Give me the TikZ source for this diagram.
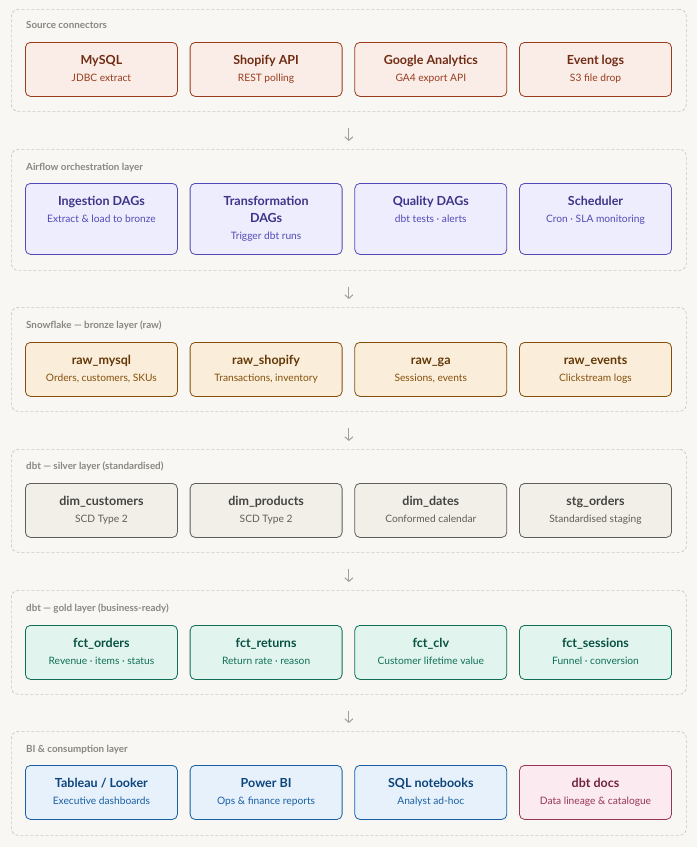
\documentclass[tikz,border=0pt]{standalone}
\usepackage{fontspec}
\setmainfont{Lato}
\usetikzlibrary{arrows.meta,calc}
\definecolor{bg}{HTML}{F9F7F3}
\definecolor{pan}{HTML}{C8C6BE}
\definecolor{lab}{HTML}{888780}
\tikzset{
 panel/.style={draw=pan,dashed,dash pattern=on 3pt off 2pt,rounded corners=7pt,line width=0.7pt},
 box/.style={rounded corners=5pt,line width=0.8pt},
 ttl/.style={font=\fontsize{12.5}{14}\selectfont\bfseries,anchor=base},
 sub/.style={font=\fontsize{10.2}{12}\selectfont,anchor=base},
 plab/.style={font=\fontsize{9.8}{12}\selectfont\bfseries,text=lab,anchor=base west,inner sep=0},
 flow/.style={draw=lab!80,line width=1pt,-{Straight Barb[length=3.5pt,width=8pt]}}
}
\newlength{\bh}\setlength{\bh}{54pt}
% #1 name #2 col index #3 top y #4 fill #5 draw #6 title col #7 sub col #8 title #9 sub
\newcommand{\mybox}[9]{%
 \pgfmathsetmacro{\bx}{25+164.7*#2}%
 \node[box,fill=#4,draw=#5,minimum width=152pt,minimum height=\bh,anchor=north west,inner sep=0] (#1) at (\bx pt,-#3 pt) {};
 \node[ttl,text=#6] (#1t) at ($(#1.north)+(0,-22pt)$) {#8};
 \node[sub,text=#7] (#1s) at ($(#1.north)+(0,-39pt)$) {#9};
}
\definecolor{f1}{HTML}{FAECE7}\definecolor{d1}{HTML}{993C1D}\definecolor{t1}{HTML}{712B13}
\definecolor{f2}{HTML}{EEEDFE}\definecolor{d2}{HTML}{534AB7}\definecolor{t2}{HTML}{3C3489}
\definecolor{f3}{HTML}{FAEEDA}\definecolor{d3}{HTML}{854F0B}\definecolor{t3}{HTML}{633806}
\definecolor{f4}{HTML}{F1EFE8}\definecolor{d4}{HTML}{5F5E5A}\definecolor{t4}{HTML}{444441}
\definecolor{f5}{HTML}{E1F5EE}\definecolor{d5}{HTML}{0F6E56}\definecolor{t5}{HTML}{085041}
\definecolor{f6}{HTML}{E6F1FB}\definecolor{d6}{HTML}{185FA5}\definecolor{t6}{HTML}{0C447C}
\definecolor{f7}{HTML}{FBEAF0}\definecolor{d7}{HTML}{993556}\definecolor{t7}{HTML}{72243E}
\begin{document}
\begin{tikzpicture}[x=1pt,y=1pt]
\fill[bg] (0,0) rectangle (697,-847);
\useasboundingbox (0,0) rectangle (697,-847);
% panels
\node[panel,minimum width=675pt,minimum height=102pt,anchor=north west] (p1) at (11,-9) {};
\node[panel,minimum width=675pt,minimum height=121pt,anchor=north west] (p2) at (11,-149) {};
\node[panel,minimum width=675pt,minimum height=104pt,anchor=north west] (p3) at (11,-307) {};
\node[panel,minimum width=675pt,minimum height=103pt,anchor=north west] (p4) at (11,-449) {};
\node[panel,minimum width=675pt,minimum height=104pt,anchor=north west] (p5) at (11,-590) {};
\node[panel,minimum width=675pt,minimum height=104pt,anchor=north west] (p6) at (11,-731) {};
\node[plab] (l1) at (26,-28) {Source connectors};
\node[plab] (l2) at (26,-170) {Airflow orchestration layer};
\node[plab] (l3) at (26,-328) {Snowflake — bronze layer (raw)};
\node[plab] (l4) at (26,-469) {dbt — silver layer (standardised)};
\node[plab] (l5) at (26,-611) {dbt — gold layer (business-ready)};
\node[plab] (l6) at (26,-752) {BI \& consumption layer};
% arrows
\foreach \a/\b in {p1/p2,p2/p3,p3/p4,p4/p5,p5/p6}{
 \draw[flow] ($(\a.south)+(0,-16)$) -- ($(\b.north)+(0,8)$);
}
% layer 1
\mybox{a1}{0}{42}{f1}{d1}{t1}{d1}{MySQL}{JDBC extract}
\mybox{a2}{1}{42}{f1}{d1}{t1}{d1}{Shopify API}{REST polling}
\mybox{a3}{2}{42}{f1}{d1}{t1}{d1}{Google Analytics}{GA4 export API}
\mybox{a4}{3}{42}{f1}{d1}{t1}{d1}{Event logs}{S3 file drop}
% layer 2
\setlength{\bh}{71pt}
\mybox{b1}{0}{183}{f2}{d2}{t2}{d2}{Ingestion DAGs}{Extract \& load to bronze}
\mybox{b2}{1}{183}{f2}{d2}{t2}{d2}{Transformation}{}
\node[ttl,text=t2] (b2u) at ($(b2.north)+(0,-39pt)$) {DAGs};
\node[sub,text=d2] (b2v) at ($(b2.north)+(0,-56pt)$) {Trigger dbt runs};
\mybox{b3}{2}{183}{f2}{d2}{t2}{d2}{Quality DAGs}{dbt tests · alerts}
\mybox{b4}{3}{183}{f2}{d2}{t2}{d2}{Scheduler}{Cron · SLA monitoring}
\setlength{\bh}{54pt}
% layer 3
\mybox{c1}{0}{342}{f3}{d3}{t3}{d3}{raw\_mysql}{Orders, customers, SKUs}
\mybox{c2}{1}{342}{f3}{d3}{t3}{d3}{raw\_shopify}{Transactions, inventory}
\mybox{c3}{2}{342}{f3}{d3}{t3}{d3}{raw\_ga}{Sessions, events}
\mybox{c4}{3}{342}{f3}{d3}{t3}{d3}{raw\_events}{Clickstream logs}
% layer 4
\mybox{e1}{0}{483}{f4}{d4}{t4}{d4}{dim\_customers}{SCD Type 2}
\mybox{e2}{1}{483}{f4}{d4}{t4}{d4}{dim\_products}{SCD Type 2}
\mybox{e3}{2}{483}{f4}{d4}{t4}{d4}{dim\_dates}{Conformed calendar}
\mybox{e4}{3}{483}{f4}{d4}{t4}{d4}{stg\_orders}{Standardised staging}
% layer 5
\mybox{g1}{0}{625}{f5}{d5}{t5}{d5}{fct\_orders}{Revenue · items · status}
\mybox{g2}{1}{625}{f5}{d5}{t5}{d5}{fct\_returns}{Return rate · reason}
\mybox{g3}{2}{625}{f5}{d5}{t5}{d5}{fct\_clv}{Customer lifetime value}
\mybox{g4}{3}{625}{f5}{d5}{t5}{d5}{fct\_sessions}{Funnel · conversion}
% layer 6
\mybox{h1}{0}{765}{f6}{d6}{t6}{d6}{Tableau / Looker}{Executive dashboards}
\mybox{h2}{1}{765}{f6}{d6}{t6}{d6}{Power BI}{Ops \& finance reports}
\mybox{h3}{2}{765}{f6}{d6}{t6}{d6}{SQL notebooks}{Analyst ad-hoc}
\mybox{h4}{3}{765}{f7}{d7}{t7}{d7}{dbt docs}{Data lineage \& catalogue}
\end{tikzpicture}
\end{document}
